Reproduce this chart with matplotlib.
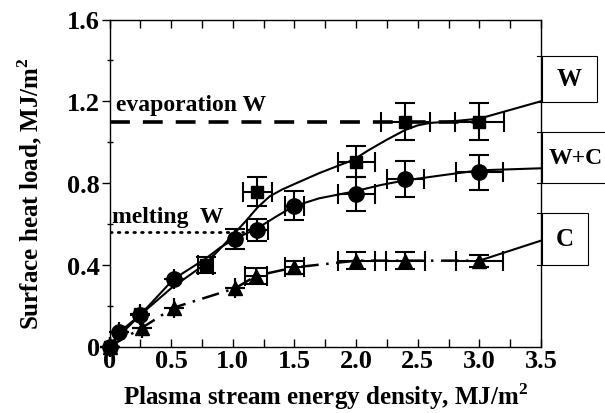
import matplotlib
matplotlib.use("Agg")
import matplotlib.pyplot as plt
from matplotlib.patches import Rectangle
from matplotlib.lines import Line2D

plt.rcParams['font.family'] = ['Liberation Serif', 'DejaVu Serif']
plt.rcParams['font.weight'] = 'bold'
plt.rcParams['mathtext.fontset'] = 'custom'
plt.rcParams['mathtext.rm'] = 'Liberation Serif:bold'
plt.rcParams['mathtext.bf'] = 'Liberation Serif:bold'

# ---- data: W (squares)
w_x = [0.0, 0.25, 0.78, 1.2, 2.0, 2.4, 3.0]
w_y = [0.0, 0.16, 0.40, 0.757, 0.904, 1.10, 1.10]
w_xerr = [0.0, 0.0, 0.06, 0.12, 0.15, 0.20, 0.20]
w_yerr = [0.0, 0.0, 0.04, 0.07, 0.075, 0.09, 0.09]
# fit curve W
wfit_x = [0.0, 0.1, 0.25, 0.5, 0.78, 0.9, 1.0, 1.1, 1.2, 1.3, 1.4, 1.5, 1.7, 1.98, 2.1, 2.25, 2.4, 2.5, 2.6, 2.75, 3.0, 3.5]
wfit_y = [0.0, 0.065, 0.155, 0.285, 0.405, 0.48, 0.545, 0.61, 0.68, 0.735, 0.768, 0.795, 0.848, 0.914, 0.96, 1.012, 1.06, 1.082, 1.094, 1.10, 1.115, 1.20]

# ---- data: W+C (circles)
wc_x = [0.0, 0.08, 0.25, 0.52, 1.02, 1.2, 1.5, 2.0, 2.4, 3.0]
wc_y = [0.0, 0.07, 0.155, 0.33, 0.526, 0.571, 0.689, 0.746, 0.82, 0.852]
wc_xerr = [0.0, 0.0, 0.0, 0.0, 0.0, 0.088, 0.077, 0.15, 0.15, 0.19]
wc_yerr = [0.0, 0.0, 0.0, 0.0, 0.05, 0.053, 0.07, 0.085, 0.088, 0.085]
wcfit_x = [0.0, 0.08, 0.25, 0.52, 0.78, 0.9, 1.02, 1.19, 1.35, 1.49, 1.7, 1.98, 2.2, 2.38, 2.7, 3.0, 3.5]
wcfit_y = [0.0, 0.07, 0.155, 0.33, 0.43, 0.485, 0.528, 0.575, 0.635, 0.685, 0.725, 0.758, 0.79, 0.811, 0.838, 0.862, 0.872]

# ---- data: C (triangles)
c_x = [0.0, 0.26, 0.52, 1.02, 1.19, 1.5, 2.0, 2.4, 3.0]
c_y = [0.0, 0.09, 0.19, 0.285, 0.346, 0.387, 0.42, 0.42, 0.42]
c_xerr = [0.0, 0.0, 0.0, 0.0, 0.09, 0.08, 0.15, 0.16, 0.19]
c_yerr = [0.0, 0.0, 0.0, 0.0, 0.04, 0.03, 0.04, 0.04, 0.03]
cfit_x = [0.0, 0.26, 0.52, 1.02, 1.19, 1.5, 2.0, 2.4, 3.0]
cfit_y = [0.0, 0.09, 0.19, 0.285, 0.346, 0.387, 0.42, 0.42, 0.42]
cend_x = [3.0, 3.5]
cend_y = [0.42, 0.518]

evap_y = 1.10
melt_y = 0.56

x_ticks = [0, 0.5, 1.0, 1.5, 2.0, 2.5, 3.0, 3.5]
x_ticklabels = ['0', '0.5', '1.0', '1.5', '2.0', '2.5', '3.0', '3.5']
y_ticks = [0, 0.4, 0.8, 1.2, 1.6]
y_ticklabels = ['0', '0.4', '0.8', '1.2', '1.6']

fig = plt.figure(figsize=(6.05, 4.14), dpi=100)
ax = fig.add_axes([109.5/605, 1-347.5/414, (541-109.5)/605, (347.5-20.5)/414])
ax.set_xlim(0, 3.5)
ax.set_ylim(0, 1.6)

# reference lines
ax.plot([0, 3.0], [evap_y, evap_y], color='black', lw=2.6, dashes=(5.5, 3.6))
ax.plot([0, 1.08], [melt_y, melt_y], color='black', lw=2.0, dashes=(0.6, 2.2), dash_capstyle='round')

# fit curves
ax.plot(wfit_x, wfit_y, color='black', lw=1.5, clip_on=False, solid_joinstyle='round')
ax.plot(wcfit_x, wcfit_y, color='black', lw=1.5, clip_on=False, solid_joinstyle='round')
ax.plot(cfit_x, cfit_y, color='black', lw=1.8, dashes=(7, 3, 1, 3))
ax.plot(cend_x, cend_y, color='black', lw=1.5, clip_on=False)

ekw = dict(fmt='none', ecolor='black', elinewidth=1.5, capsize=7, capthick=1.5, clip_on=False)
ax.errorbar(w_x, w_y, xerr=w_xerr, yerr=w_yerr, **ekw)
ax.errorbar(wc_x, wc_y, xerr=wc_xerr, yerr=wc_yerr, **ekw)
ax.errorbar(c_x, c_y, xerr=c_xerr, yerr=c_yerr, **ekw)

ax.plot(w_x, w_y, 's', color='black', ms=9, ls='none', clip_on=False, zorder=5)
ax.plot(wc_x, wc_y, 'o', color='black', ms=11, ls='none', clip_on=False, zorder=5)
ax.plot(c_x, c_y, '^', color='black', ms=10, ls='none', clip_on=False, zorder=6)

ax.text(0.05, 1.185, 'evaporation W', fontsize=17, fontweight='bold', va='center', ha='left')
ax.text(0.02, 0.635, 'melting  W', fontsize=17, fontweight='bold', va='center', ha='left')

ax.set_xticks(x_ticks)
ax.set_xticklabels(x_ticklabels)
ax.set_yticks(y_ticks)
ax.set_yticklabels(y_ticklabels)
ax.set_xticks([0.25, 0.75, 1.25, 1.75, 2.25, 2.75, 3.25], minor=True)
ax.set_yticks([0.2, 0.6, 1.0, 1.4], minor=True)
ax.tick_params(axis='x', which='both', direction='in', top=True, length=6, width=1, labelsize=19, pad=2)
ax.tick_params(axis='y', which='major', direction='out', right=False, length=6, width=1, labelsize=19, pad=1)
ax.tick_params(axis='y', which='minor', direction='inout', right=False, length=5, width=1)
for lab in ax.get_xticklabels() + ax.get_yticklabels():
    lab.set_fontweight('bold')
for sp in ax.spines.values():
    sp.set_linewidth(1.0)

ax.set_xlabel('Plasma stream energy density, MJ/m$^2$', fontsize=18, fontweight='bold', labelpad=6)
ax.set_ylabel('Surface heat load, MJ/m$^2$', fontsize=18, fontweight='bold')
ax.yaxis.set_label_coords(-0.150, 0.47)

# boxes on the right (figure pixel coords)
def px(x, y):
    return x/605, 1 - y/414

def box(x0, x1, y0, y1, label, fs):
    xa, ya = px(x0, y1)
    xb, yb = px(x1, y0)
    fig.add_artist(Rectangle((xa, ya), xb-xa, yb-ya, transform=fig.transFigure,
                             fill=False, edgecolor='black', lw=0.8, clip_on=False))
    for yy in (y0, y1):
        xs0, yy0 = px(537, yy)
        xs1, _ = px(x0, yy)
        fig.add_artist(Line2D([xs0, xs1], [yy0, yy0], transform=fig.transFigure, color='black', lw=0.8))
    cx, cy = px((x0 + x1)/2, (y0 + y1)/2)
    fig.text(cx, cy, label, fontsize=fs, fontweight='bold', ha='center', va='center')

box(541.5, 597, 57, 102.7, 'W', 18)
box(541.5, 610, 132.7, 184, 'W+C', 17)
box(541.5, 588, 214, 265.7, 'C', 18)

fig.savefig('out.png', dpi=100)
